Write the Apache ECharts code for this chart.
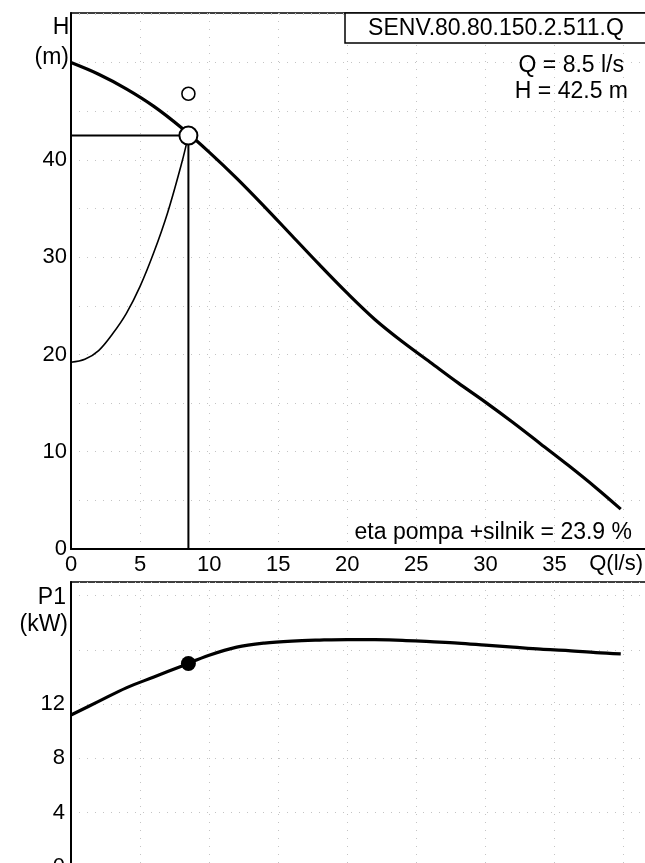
<!DOCTYPE html>
<html>
<head>
<meta charset="utf-8">
<script src="https://cdn.jsdelivr.net/npm/echarts@6/dist/echarts.min.js"></script>
<style>
  html, body { margin: 0; padding: 0; background: #fff; overflow: hidden; }
  #chart { width: 645px; height: 880px; }
</style>
</head>
<body>
<div id="chart"></div>
<script>
// Pump head curve H(Q)
const pumpQ = [0, 2, 4, 6, 8, 10, 12, 14, 16, 18, 20, 22, 24, 26, 28, 30, 32, 34, 36, 38, 39.8];
const pumpH = [50.0, 48.8, 47.3, 45.5, 43.3, 40.8, 38.1, 35.2, 32.2, 29.2, 26.3, 23.6, 21.3, 19.2, 17.1, 15.1, 13.0, 10.8, 8.6, 6.3, 4.1];

// System curve
const sysQ = [0, 1, 2, 3, 4, 5, 6, 7, 8, 8.5];
const sysH = [19.2, 19.5, 20.4, 22.1, 24.2, 27.0, 30.5, 34.6, 39.6, 42.5];

// Power input P1(Q)
const powQ = [0, 2, 4, 6, 8, 10, 12, 14, 16, 18, 20, 22, 24, 26, 28, 30, 32, 34, 36, 38, 39.8];
const powP = [11.2, 12.2, 13.2, 14.0, 14.8, 15.6, 16.2, 16.5, 16.65, 16.72, 16.76, 16.75, 16.7, 16.6, 16.5, 16.35, 16.2, 16.05, 15.95, 15.8, 15.7];

// Duty point
const dutyQ = 8.5;
const dutyH = 42.5;
const dutyP = 15.0;
const markerH = 46.8;

// Axis ticks
const qTicks = ['0', '5', '10', '15', '20', '25', '30', '35'];
const hTicks = [0, 10, 20, 30, 40];
const pTicks = [0, 4, 8, 12];

const FONT = "'Liberation Sans', Arial, sans-serif";
const TICK_SIZE = 22;
const NOTE_SIZE = 23;
const zip = (xs, ys) => xs.map((x, i) => [x, ys[i]]);

const chart = echarts.init(document.getElementById('chart'), null, { renderer: 'canvas' });

const gridLine = { show: true, lineStyle: { color: '#c4c4c4', type: [1, 7], width: 1 } };
const axisLine = { show: true, onZero: false, lineStyle: { color: '#000', width: 2 } };

const option = {
  animation: false,
  backgroundColor: '#fff',
  grid: [
    { left: 71, right: -2, top: 13, bottom: 331, outerBoundsMode: 'none', containLabel: false, show: true, borderColor: '#000', borderWidth: 1.5, backgroundColor: 'transparent' },
    { left: 71, right: -2, top: 582, bottom: 13, outerBoundsMode: 'none', containLabel: false, show: true, borderColor: '#000', borderWidth: 1.5, backgroundColor: 'transparent' }
  ],
  xAxis: [
    {
      gridIndex: 0, type: 'value', min: 0, max: 41.7, interval: 5,
      axisLine: axisLine,
      axisTick: { show: false },
      axisLabel: {
        color: '#000', fontSize: TICK_SIZE, fontFamily: FONT, margin: 5, showMaxLabel: false,
        formatter: v => qTicks[Math.round(v / 5)] || ''
      },
      splitLine: gridLine
    },
    {
      gridIndex: 1, type: 'value', min: 0, max: 41.7, interval: 5,
      axisLine: axisLine,
      axisTick: { show: false },
      axisLabel: { show: false },
      splitLine: gridLine
    }
  ],
  yAxis: [
    {
      gridIndex: 0, type: 'value', min: 0, max: 55.1, interval: 5,
      axisLine: axisLine,
      axisTick: { show: false },
      axisLabel: {
        color: '#000', fontSize: TICK_SIZE, fontFamily: FONT, margin: 4, showMaxLabel: false,
        formatter: v => hTicks.includes(v) ? String(v) : ''
      },
      splitLine: gridLine
    },
    {
      gridIndex: 1, type: 'value', min: 0, max: 21, interval: 4,
      axisLine: axisLine,
      axisTick: { show: false },
      axisLabel: {
        color: '#000', fontSize: TICK_SIZE, fontFamily: FONT, margin: 6, showMaxLabel: false,
        formatter: v => pTicks.includes(v) ? String(v) : ''
      },
      splitLine: gridLine
    }
  ],
  series: [
    {
      name: 'H', type: 'line', xAxisIndex: 0, yAxisIndex: 0, smooth: 0.35,
      showSymbol: false, data: zip(pumpQ, pumpH),
      lineStyle: { color: '#000', width: 3.2 }, z: 5
    },
    {
      name: 'system', type: 'line', xAxisIndex: 0, yAxisIndex: 0, smooth: 0.35,
      showSymbol: false, data: zip(sysQ, sysH),
      lineStyle: { color: '#000', width: 1.6 }, z: 4
    },
    {
      name: 'duty lines', type: 'line', xAxisIndex: 0, yAxisIndex: 0,
      showSymbol: false, data: [[0, dutyH], [dutyQ, dutyH], [dutyQ, 0]],
      lineStyle: { color: '#000', width: 2 }, z: 4
    },
    {
      name: 'duty point', type: 'scatter', xAxisIndex: 0, yAxisIndex: 0,
      symbol: 'circle', symbolSize: 18, data: [[dutyQ, dutyH]],
      itemStyle: { color: '#fff', borderColor: '#000', borderWidth: 2, opacity: 1 }, z: 10
    },
    {
      name: 'marker', type: 'scatter', xAxisIndex: 0, yAxisIndex: 0,
      symbol: 'circle', symbolSize: 13, data: [[dutyQ, markerH]],
      itemStyle: { color: '#fff', borderColor: '#000', borderWidth: 1.6, opacity: 1 }, z: 10
    },
    {
      name: 'P1', type: 'line', xAxisIndex: 1, yAxisIndex: 1, smooth: 0.35,
      showSymbol: false, data: zip(powQ, powP),
      lineStyle: { color: '#000', width: 3.2 }, z: 5
    },
    {
      name: 'P1 duty', type: 'scatter', xAxisIndex: 1, yAxisIndex: 1,
      symbol: 'circle', symbolSize: 15, data: [[dutyQ, dutyP]],
      itemStyle: { color: '#000', opacity: 1 }, z: 10
    }
  ],
  graphic: [
    { type: 'text', x: 61, y: 28, style: { text: 'H', font: NOTE_SIZE + 'px ' + FONT, fill: '#000', textAlign: 'center', textVerticalAlign: 'middle' } },
    { type: 'text', x: 69, y: 58, style: { text: '(m)', font: NOTE_SIZE + 'px ' + FONT, fill: '#000', textAlign: 'right', textVerticalAlign: 'middle' } },
    { type: 'text', x: 643, y: 564, style: { text: 'Q(l/s)', font: TICK_SIZE + 'px ' + FONT, fill: '#000', textAlign: 'right', textVerticalAlign: 'middle' } },
    { type: 'rect', shape: { x: 345, y: 13, width: 310, height: 30 }, style: { fill: '#fff', stroke: '#000', lineWidth: 1.5 }, z: 20 },
    { type: 'text', x: 496, y: 29, style: { text: 'SENV.80.80.150.2.511.Q', font: NOTE_SIZE + 'px ' + FONT, fill: '#000', textAlign: 'center', textVerticalAlign: 'middle' }, z: 21 },
    { type: 'text', x: 624, y: 66, style: { text: 'Q = 8.5 l/s', font: NOTE_SIZE + 'px ' + FONT, fill: '#000', textAlign: 'right', textVerticalAlign: 'middle' }, z: 21 },
    { type: 'text', x: 628, y: 92, style: { text: 'H = 42.5 m', font: NOTE_SIZE + 'px ' + FONT, fill: '#000', textAlign: 'right', textVerticalAlign: 'middle' }, z: 21 },
    { type: 'text', x: 632, y: 533, style: { text: 'eta pompa +silnik = 23.9 %', font: NOTE_SIZE + 'px ' + FONT, fill: '#000', textAlign: 'right', textVerticalAlign: 'middle' }, z: 21 },
    { type: 'text', x: 66, y: 598, style: { text: 'P1', font: NOTE_SIZE + 'px ' + FONT, fill: '#000', textAlign: 'right', textVerticalAlign: 'middle' } },
    { type: 'text', x: 68, y: 625, style: { text: '(kW)', font: NOTE_SIZE + 'px ' + FONT, fill: '#000', textAlign: 'right', textVerticalAlign: 'middle' } }
  ]
};

chart.setOption(option);
</script>
</body>
</html>
